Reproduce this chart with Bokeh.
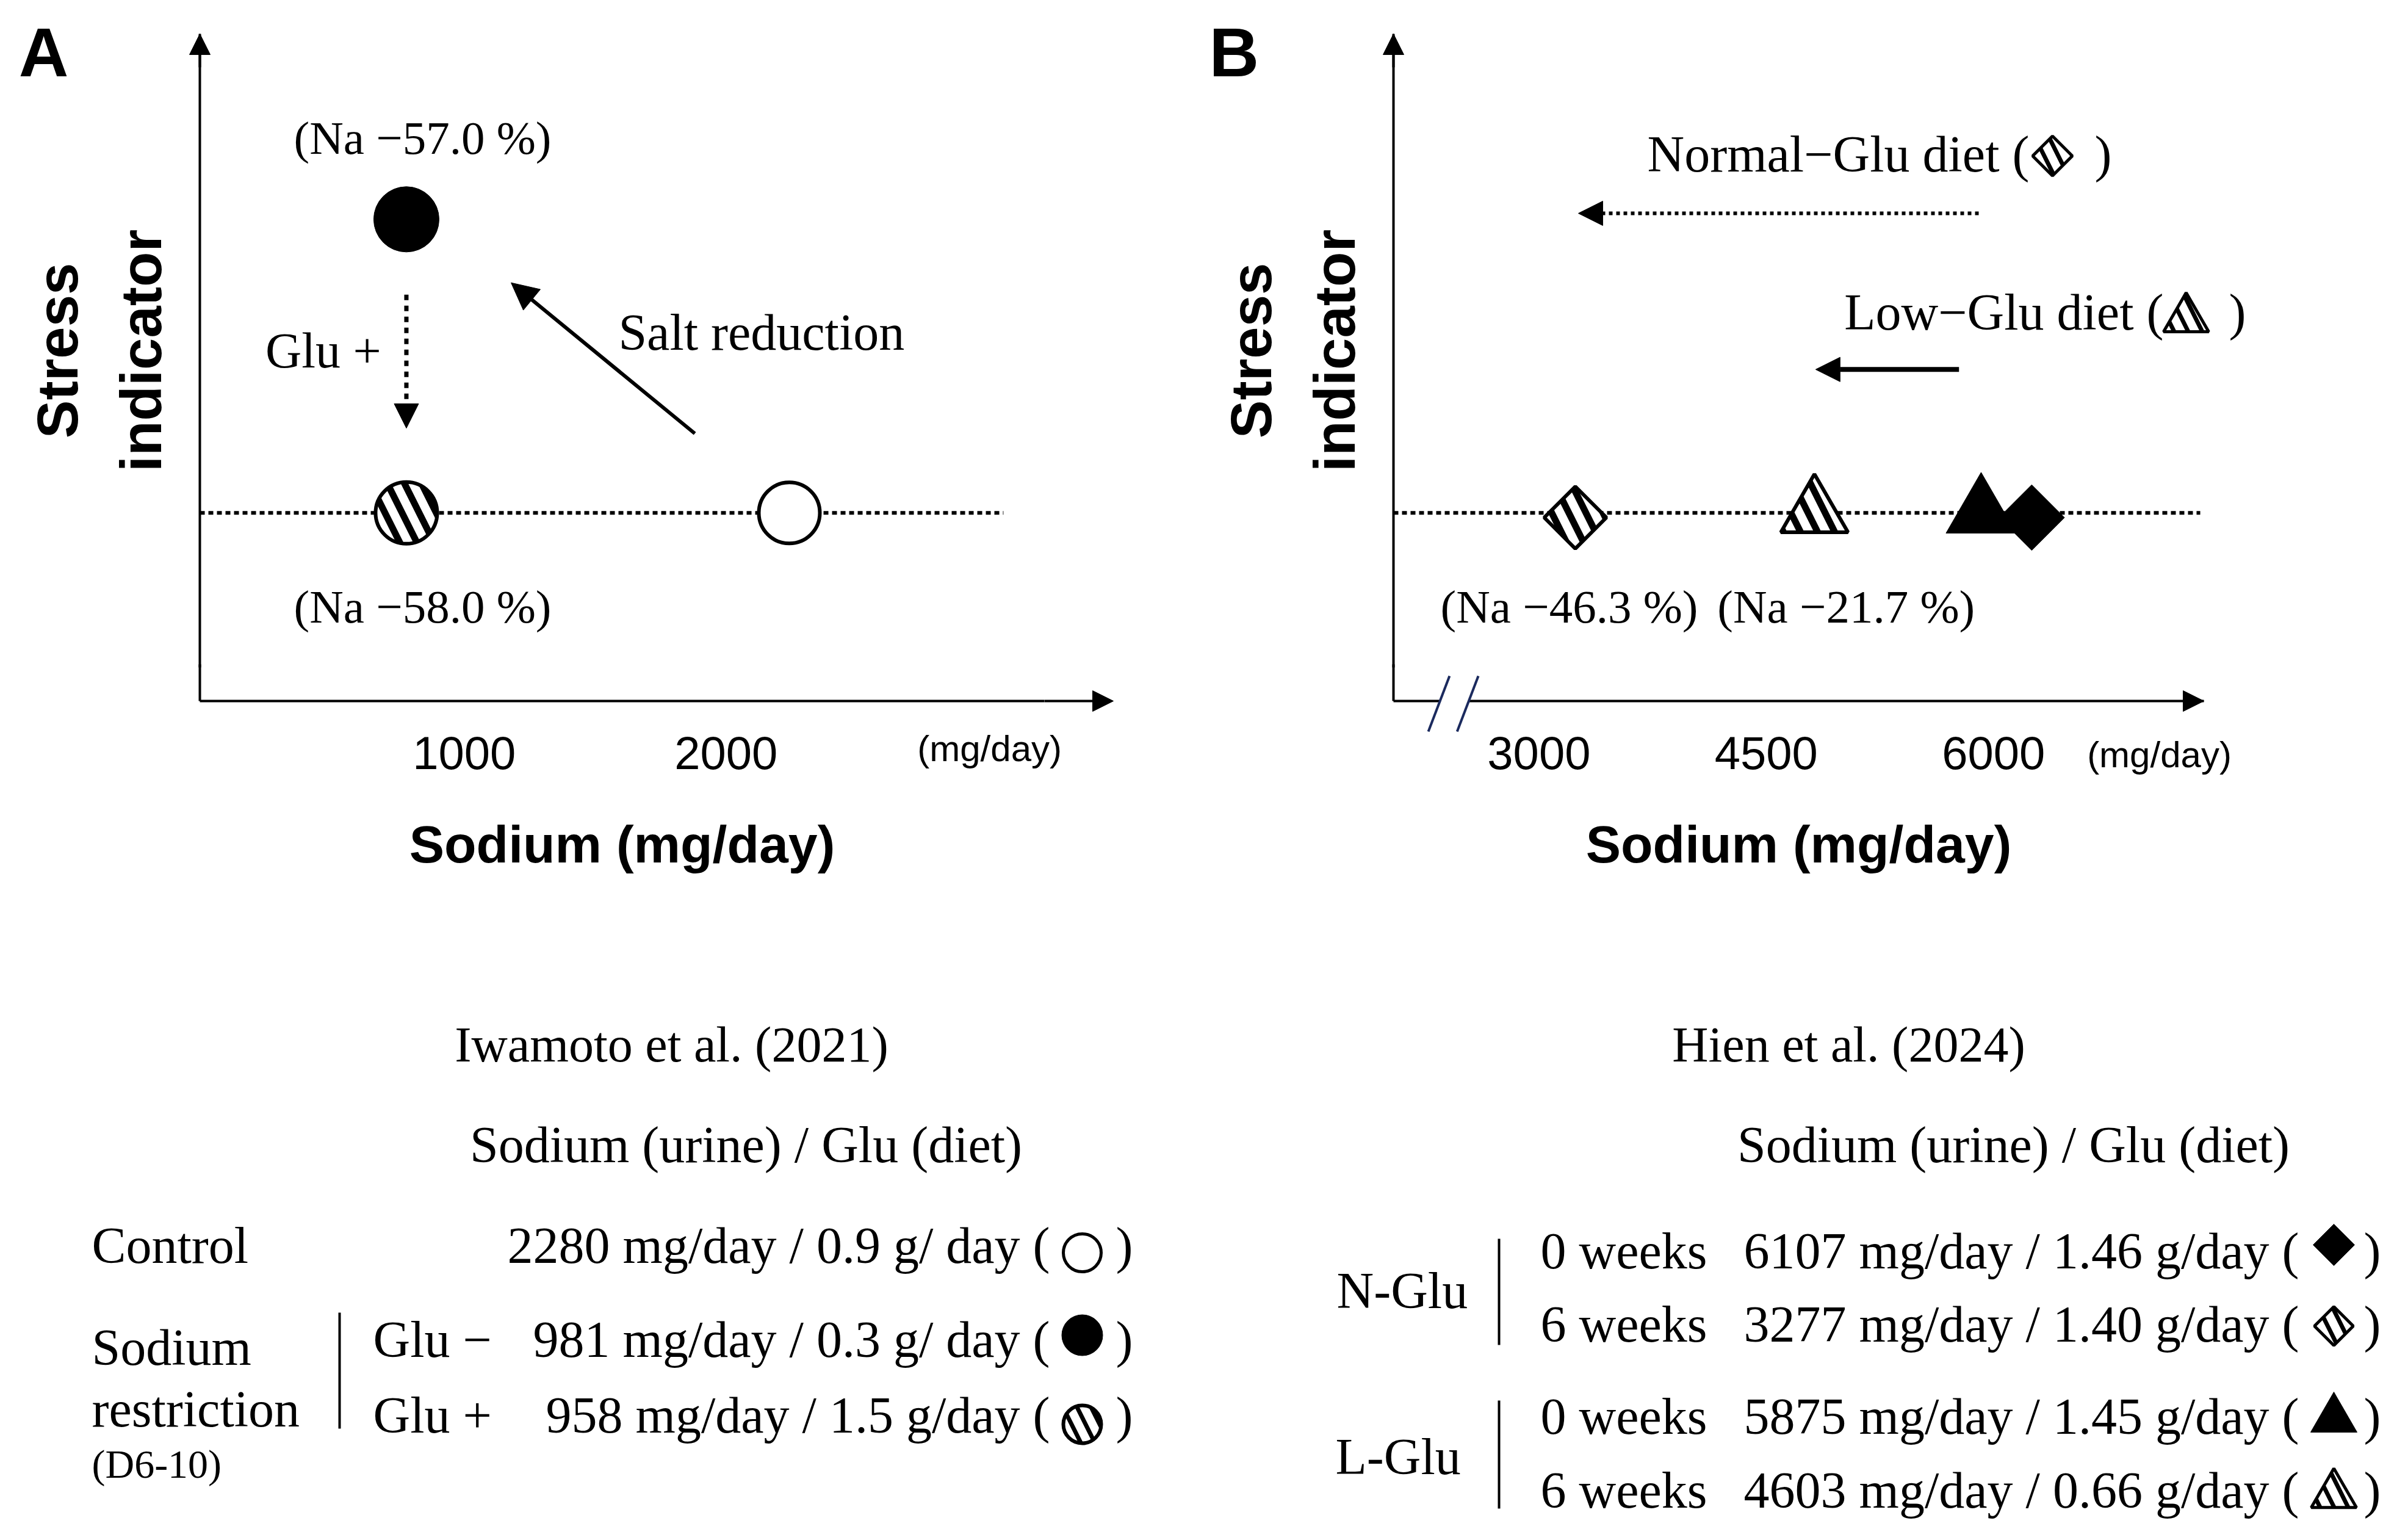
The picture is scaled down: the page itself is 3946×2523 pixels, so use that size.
import numpy as np
from bokeh.plotting import figure
from bokeh.models import (Range1d, LinearAxis, FixedTicker, Arrow, NormalHead,
                          Label, PolyAnnotation)
from bokeh.layouts import column, row
from bokeh.embed import file_html
from bokeh.resources import INLINE
from bokeh.core.properties import value

# ---------------- data ----------------
# Panel A: Iwamoto et al. (2021) -- positions as drawn in the schematic
a_groups = ["Control", "Glu−", "Glu+"]
a_sodium_drawn = [2242, 779, 779]          # mg/day (x position as drawn)
a_stress = [2.82, 7.22, 2.82]              # arbitrary stress level
a_ticks = [1000, 2000]
a_na_change = ["(Na −57.0 %)", "(Na −58.0 %)"]

# Panel B: Hien et al. (2024)
b_groups = ["N-Glu 0 w", "N-Glu 6 w", "L-Glu 0 w", "L-Glu 6 w"]
b_sodium_drawn = [6252, 3240, 5918, 4818]  # mg/day (x position as drawn)
b_stress = [2.75, 2.75, 2.82, 2.82]
b_ticks = [3000, 4500, 6000]
b_na_change = ["(Na −46.3 %)", "(Na −21.7 %)"]

baseline_level = 2.82

# Tables
a_rows = ["Control", "Glu −", "Glu +"]
a_sodium_urine = [2280, 981, 958]
a_glu_diet = ["0.9 g/ day", "0.3 g/ day", "1.5 g/day"]
b_weeks = ["0 weeks", "6 weeks", "0 weeks", "6 weeks"]
b_sodium_urine = [6107, 3277, 5875, 4603]
b_glu_diet = [1.46, 1.40, 1.45, 0.66]

SERIF = "Liberation Serif"
SANS = "Liberation Sans"
HATCH = dict(hatch_pattern="\\", hatch_color="black")
BIG_HATCH = dict(hatch_scale=56, hatch_weight=11, **HATCH)
SMALL_HATCH = dict(hatch_scale=46, hatch_weight=7, **HATCH)
YR = (-3.769, 10.503)


def panel(width, xr, x0, xend, label_end, ticks):
    p = figure(width=width, height=1560, x_range=Range1d(*xr), y_range=Range1d(*YR),
               output_backend="svg", toolbar_location=None,
               x_axis_location=None, y_axis_location=None, min_border=0)
    p.outline_line_color = None
    p.grid.grid_line_color = None
    xa = LinearAxis(ticker=FixedTicker(ticks=ticks), fixed_location=0, bounds=(x0, label_end),
                    axis_line_width=4, axis_line_color="black",
                    major_tick_line_color=None, minor_tick_line_color=None,
                    major_tick_out=0, major_tick_in=0,
                    major_label_text_font=SANS, major_label_text_font_size="76px",
                    major_label_text_color="black", major_label_standoff=58,
                    axis_label="Sodium (mg/day)", axis_label_text_font=SANS,
                    axis_label_text_font_style="bold", axis_label_text_font_size="86px",
                    axis_label_text_color="black", axis_label_standoff=72)
    p.add_layout(xa, "below")
    ya = LinearAxis(ticker=FixedTicker(ticks=[]), fixed_location=x0, bounds=(0.5, 10),
                    axis_line_width=4, axis_line_color="black",
                    major_tick_line_color=None, minor_tick_line_color=None,
                    major_tick_out=0, major_tick_in=0,
                    axis_label="Stress\nindicator", axis_label_text_font=SANS,
                    axis_label_text_font_style="bold", axis_label_text_font_size="94px",
                    axis_label_text_color="black", axis_label_standoff=44,
                    axis_label_text_line_height=1.3)
    p.add_layout(ya, "left")
    # remaining pieces of the axis lines, with arrow heads
    p.add_layout(Arrow(end=NormalHead(size=34, fill_color="black", line_color="black"),
                       x_start=label_end, y_start=0, x_end=xend, y_end=0,
                       line_width=4, line_color="black"))
    p.add_layout(Arrow(end=NormalHead(size=34, fill_color="black", line_color="black"),
                       x_start=x0, y_start=9.5, x_end=x0, y_end=10,
                       line_width=4, line_color="black"))
    p.add_layout(Arrow(start=None, end=None, x_start=x0, y_start=0, x_end=x0, y_end=0.55,
                       line_width=4, line_color="black"))
    return p


def lab(p, x, y, text, size="82px", font=SERIF, align="center", style="normal"):
    p.add_layout(Label(x=x, y=y, text=text, text_font=font, text_font_size=size,
                       text_align=align, text_baseline="middle", text_font_style=style,
                       text_color="black"))


# ---------------- Panel A ----------------
pA = panel(1968, (-772.4, 3815.7), -10, 3480, 3217, a_ticks)
pA.line(x=[-10, 3060], y=[baseline_level] * 2, line_color="black", line_width=6, line_dash="8 6")
pA.scatter(x=[a_sodium_drawn[0]], y=[a_stress[0]], marker="circle", size=100,
           fill_color="white", line_color="black", line_width=6)
pA.scatter(x=[a_sodium_drawn[1]], y=[a_stress[1]], marker="circle", size=107,
           fill_color="black", line_color="black")
pA.scatter(x=[a_sodium_drawn[2]], y=[a_stress[2]], marker="circle", size=101,
           fill_color="white", line_color="black", line_width=6, **BIG_HATCH)
pA.add_layout(Arrow(end=NormalHead(size=40, fill_color="black", line_color="black"),
                    x_start=a_sodium_drawn[1], y_start=6.09, x_end=a_sodium_drawn[1], y_end=4.09,
                    line_width=7, line_dash="9 9", line_color="black"))
pA.add_layout(Arrow(end=NormalHead(size=44, fill_color="black", line_color="black"),
                    x_start=1881, y_start=4.01, x_end=1179, y_end=6.27,
                    line_width=6, line_color="black"))
lab(pA, 841, 8.44, a_na_change[0], "77px")
lab(pA, 841, 1.41, a_na_change[1], "77px")
lab(pA, 683, 5.25, "Glu +", "82px", align="right")
lab(pA, 1589, 5.53, "Salt reduction", "84px", align="left")
lab(pA, 3007, -0.71, "(mg/day)", "60px", font=SANS)
lab(pA, -702, 9.72, "A", "113px", font=SANS, align="left", style="bold")

# ---------------- Panel B ----------------
pB = panel(1962, (771.5, 8672.6), 2040, 7388, 7388, b_ticks)
pB.line(x=[2040, 7364], y=[baseline_level] * 2, line_color="black", line_width=6, line_dash="8 6")
pB.scatter(x=[b_sodium_drawn[2]], y=[b_stress[2]], marker="triangle", size=115,
           fill_color="black", line_color="black")
pB.scatter(x=[b_sodium_drawn[0]], y=[b_stress[0]], marker="square", angle=np.pi / 4, size=76,
           fill_color="black", line_color="black")
pB.scatter(x=[b_sodium_drawn[1]], y=[b_stress[1]], marker="square", angle=np.pi / 4, size=72,
           fill_color="white", line_color="black", line_width=6, **BIG_HATCH)
pB.scatter(x=[b_sodium_drawn[3]], y=[b_stress[3]], marker="triangle", size=110,
           fill_color="white", line_color="black", line_width=6, **BIG_HATCH)
pB.add_layout(Arrow(end=NormalHead(size=40, fill_color="black", line_color="black"),
                    x_start=5902, y_start=7.31, x_end=3260, y_end=7.31,
                    line_width=6, line_dash="6 6", line_color="black"))
pB.add_layout(Arrow(end=NormalHead(size=40, fill_color="black", line_color="black"),
                    x_start=5772, y_start=4.97, x_end=4826, y_end=4.97,
                    line_width=8, line_color="black"))
lab(pB, 6236, 8.20, "Normal−Glu diet (", "84px", align="right")
lab(pB, 6667, 8.20, ")", "84px", align="left")
pB.scatter(x=[6389], y=[8.17], marker="square", angle=np.pi / 4, size=46,
           fill_color="white", line_color="black", line_width=5, **SMALL_HATCH)
lab(pB, 7122, 5.83, "Low−Glu diet (", "84px", align="right")
lab(pB, 7553, 5.83, ")", "84px", align="left")
pB.scatter(x=[7271], y=[5.73], marker="triangle", size=74,
           fill_color="white", line_color="black", line_width=5, **SMALL_HATCH)
lab(pB, 3200, 1.41, b_na_change[0], "77px")
lab(pB, 5027, 1.41, b_na_change[1], "77px")
lab(pB, 7094, -0.805, "(mg/day)", "60px", font=SANS)
lab(pB, 824, 9.72, "B", "113px", font=SANS, align="left", style="bold")
# axis break
pB.add_layout(PolyAnnotation(xs=[2355, 2545, 2528, 2338], ys=[0.05, 0.05, -0.05, -0.05],
                             fill_color="white", fill_alpha=1, line_color=None))
for dx in (0, 190):
    pB.add_layout(Arrow(start=None, end=None, x_start=2410 + dx, y_start=0.375,
                        x_end=2270 + dx, y_end=-0.457, line_width=4, line_color="#1b2a5e"))

# ---------------- Tables ----------------
pT = figure(width=3930, height=947, x_range=Range1d(0, 3930), y_range=Range1d(2507, 1560),
            output_backend="svg", toolbar_location=None,
            x_axis_location=None, y_axis_location=None, min_border=0)
pT.outline_line_color = None
pT.grid.grid_line_color = None


def ttext(xs, ys, texts, align, size="84px"):
    pT.text(x=xs, y=ys, text=texts, text_font=value(SERIF), text_font_size=value(size),
            text_align=align, text_baseline="middle", text_color="black")


ttext([1100, 3029], [1711, 1711], ["Iwamoto et al. (2021)", "Hien et al. (2024)"], "center", "82px")
ttext([1222, 3299], [1875, 1875], ["Sodium (urine) / Glu (diet)"] * 2, "center")

# Table A
a_rowy = [2040, 2194, 2318]
ttext([150], [a_rowy[0]], ["Control"], "left")
ttext([150, 150], [2207, 2308], ["Sodium", "restriction"], "left")
ttext([150], [2398], ["(D6-10)"], "left", "66px")
ttext([611, 611], a_rowy[1:], a_rows[1:], "left")
ttext([1720] * 3, a_rowy,
      [f"{s} mg/day / {g} (" for s, g in zip(a_sodium_urine, a_glu_diet)], "right")
ttext([1828] * 3, a_rowy, [")"] * 3, "left")
pT.segment(x0=[556], y0=[2150], x1=[556], y1=[2340], line_width=4, line_color="black")
pT.scatter(x=[1773], y=[2052], marker="circle", size=62, fill_color="white",
           line_color="black", line_width=5)
pT.scatter(x=[1773], y=[2187], marker="circle", size=67, fill_color="black", line_color="black")
pT.scatter(x=[1773], y=[2333], marker="circle", size=62, fill_color="white",
           line_color="black", line_width=6, **SMALL_HATCH)

# Table B
b_rowy = [2049, 2169, 2320, 2441]
ttext([2190, 2188], [2114, 2386], ["N-Glu", "L-Glu"], "left")
ttext([2524] * 4, b_rowy, b_weeks, "left")
ttext([3767] * 4, b_rowy,
      [f"{s} mg/day / {g:.2f} g/day (" for s, g in zip(b_sodium_urine, b_glu_diet)], "right")
ttext([3873] * 4, b_rowy, [")"] * 4, "left")
pT.segment(x0=[2456, 2456], y0=[2029, 2294], x1=[2456, 2456], y1=[2203, 2471],
           line_width=4, line_color="black")
pT.scatter(x=[3824], y=[2039], marker="square", angle=np.pi / 4, size=48,
           fill_color="black", line_color="black")
pT.scatter(x=[3824], y=[2172], marker="square", angle=np.pi / 4, size=45,
           fill_color="white", line_color="black", line_width=5, **SMALL_HATCH)
pT.scatter(x=[3824], y=[2324], marker="triangle", size=76, fill_color="black", line_color="black")
pT.scatter(x=[3824], y=[2448], marker="triangle", size=74, fill_color="white",
           line_color="black", line_width=5, **SMALL_HATCH)

layout = column(row(pA, pB), pT)
open("out.html", "w").write(file_html(layout, INLINE))
